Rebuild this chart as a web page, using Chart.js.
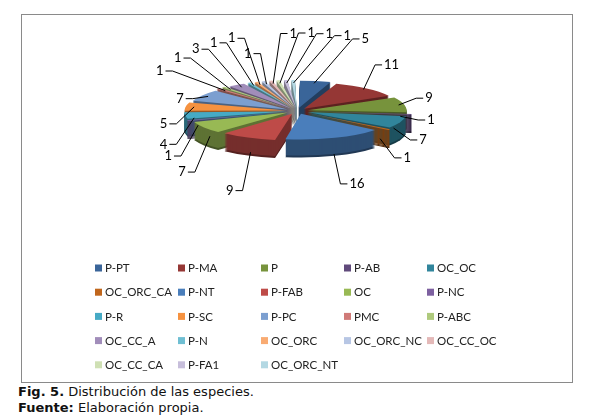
<!DOCTYPE html>
<html>
<head>
<meta charset="utf-8">
<script src="https://cdn.jsdelivr.net/npm/chart.js@4.4.1/dist/chart.umd.min.js"></script>
<style>
  html, body { margin: 0; padding: 0; background: #fff; }
  #frame { position: absolute; left: 21px; top: 14px; width: 550px; height: 367px; border: 1px solid #8a8a8a; }
  #frame canvas { display: block; }
  .caption { position: absolute; left: 18px; font-family: "DejaVu Sans", Verdana, sans-serif; font-size: 13px; line-height: 16px; color: #111; white-space: nowrap; }
</style>
</head>
<body>
<div id="frame"><canvas id="pie" width="550" height="367"></canvas></div>
<div class="caption" style="top:384px"><b>Fig. 5.</b> Distribución de las especies.</div>
<div class="caption" style="top:400px"><b>Fuente:</b> Elaboración propia.</div>
<script>
// Species and how many of each were counted
const species = ['P-PT', 'P-MA', 'P', 'P-AB', 'OC_OC', 'OC_ORC_CA', 'P-NT', 'P-FAB', 'OC', 'P-NC',
                 'P-R', 'P-SC', 'P-PC', 'PMC', 'P-ABC', 'OC_CC_A', 'P-N', 'OC_ORC', 'OC_ORC_NC',
                 'OC_CC_OC', 'OC_CC_CA', 'P-FA1', 'OC_ORC_NT'];
const counts = [5, 11, 9, 1, 7, 1, 16, 9, 7, 1, 4, 5, 7, 1, 1, 3, 1, 1, 1, 1, 1, 1, 1];

// Office 2007 style palette
const sliceColors = ['#3a6599', '#953735', '#77933c', '#604a7b', '#31859c', '#c0661c',
                     '#4a7ebb', '#be4b48', '#98b954', '#7d60a0', '#46aac5', '#f69240',
                     '#7c9fd0', '#d07a78', '#afca7d', '#a18dba', '#6fbfd3', '#f9ab72',
                     '#b7c6e4', '#e4b9b8', '#cfe0b4', '#c7bedb', '#b3d8e3'];

// fake 3-D: vertical squash, side height, where the centre lands on the canvas
const tilt = { squash: 0.27, depth: 18, centerX: 275, centerY: 96 };

function setTilt(ctx, cx, cy, drop) {
    ctx.translate(tilt.centerX, tilt.centerY + drop);
    ctx.scale(1, tilt.squash);
    ctx.translate(-cx, -cy);
}

// Draws the side walls under the slices, then tilts the top face
const tiltPlugin = {
    id: 'tilt',
    beforeDatasetsDraw(chart) {
        const ctx = chart.ctx;
        const arcs = chart.getDatasetMeta(0).data;
        const cx = arcs[0].x, cy = arcs[0].y;
        for (let d = tilt.depth; d >= 1; d--) {
            ctx.save();
            setTilt(ctx, cx, cy, d);
            ctx.filter = 'brightness(' + (d > tilt.depth - 2 ? 45 : 62) + '%)';
            arcs.forEach(arc => arc.draw(ctx));
            ctx.restore();
        }
        ctx.save();
        setTilt(ctx, cx, cy, 0);
    },
    afterDatasetsDraw(chart) {
        chart.ctx.restore();
    }
};

// Value labels with leader lines, Excel style
const leaderPlugin = {
    id: 'leaders',
    afterDraw(chart) {
        const ctx = chart.ctx;
        const arcs = chart.getDatasetMeta(0).data;
        const values = chart.data.datasets[0].data;
        const rxL = 122, ryL = 60, minGap = 18;
        const items = arcs.map((arc, i) => {
            const p = arc.getProps(['startAngle', 'endAngle', 'outerRadius']);
            const mid = (p.startAngle + p.endAngle) / 2;
            const c = Math.cos(mid), s = Math.sin(mid);
            const drop = tilt.depth * Math.max(0, s);
            const r = p.outerRadius + 10;
            return {
                value: values[i], c, s,
                ax: tilt.centerX + c * r,
                ay: tilt.centerY + s * r * tilt.squash + drop,
                x: tilt.centerX + c * rxL,
                y: tilt.centerY + s * ryL + drop + 22 * Math.max(0, -c)
            };
        });
        // spread the crowded labels over the top
        const top = items.filter(it => it.s < -0.6).sort((a, b) => a.x - b.x);
        top.forEach(it => { it.x0 = it.x; it.y = tilt.centerY + it.s * ryL; });
        for (let n = 0; n < 300; n++) {
            for (let i = 1; i < top.length; i++) {
                const gap = top[i].x - top[i - 1].x;
                if (gap < minGap) {
                    const push = (minGap - gap) / 2;
                    top[i].x += push;
                    top[i - 1].x -= push;
                }
            }
        }
        top.forEach(it => {
            if (Math.abs(it.x - it.x0) > 1) {
                it.x += 2;
                const dx = (it.x - tilt.centerX) / 145;
                it.y = tilt.centerY - 78 * Math.sqrt(Math.max(0.1, 1 - dx * dx));
            }
            it.side = it.x >= it.ax ? 1 : -1;
        });

        ctx.save();
        ctx.strokeStyle = '#000';
        ctx.lineWidth = 1;
        ctx.fillStyle = '#000';
        ctx.font = '13px Lato, "Open Sans", sans-serif';
        ctx.textBaseline = 'middle';
        items.forEach(it => {
            const side = it.side || (it.c >= 0 ? 1 : -1);
            ctx.beginPath();
            ctx.moveTo(it.ax, it.ay);
            ctx.lineTo(it.x, it.y);
            ctx.lineTo(it.x + side * 7, it.y);
            ctx.stroke();
            ctx.textAlign = side > 0 ? 'left' : 'right';
            ctx.fillText(String(it.value), it.x + side * 9, it.y);
        });
        ctx.restore();
    }
};

// Legend drawn as a fixed grid
const legendGrid = { left: 73, top: 253, colWidth: 83, rowHeight: 24.2, columns: 5, box: 7 };
const gridLegendPlugin = {
    id: 'gridLegend',
    afterDraw(chart) {
        const ctx = chart.ctx;
        const colors = chart.data.datasets[0].backgroundColor;
        ctx.save();
        ctx.font = '11.5px Lato, "Open Sans", sans-serif';
        ctx.textBaseline = 'middle';
        ctx.textAlign = 'left';
        chart.data.labels.forEach((name, i) => {
            const col = i % legendGrid.columns, row = Math.floor(i / legendGrid.columns);
            const x = legendGrid.left + col * legendGrid.colWidth;
            const y = legendGrid.top + row * legendGrid.rowHeight;
            ctx.fillStyle = colors[i];
            ctx.fillRect(x, y - legendGrid.box / 2, legendGrid.box, legendGrid.box);
            ctx.fillStyle = '#222';
            ctx.fillText(name, x + legendGrid.box + 3, y + 0.5);
        });
        ctx.restore();
    }
};

new Chart(document.getElementById('pie'), {
    type: 'pie',
    data: {
        labels: species,
        datasets: [{
            data: counts,
            backgroundColor: sliceColors,
            borderWidth: 0,
            offset: 44
        }]
    },
    options: {
        responsive: false,
        animation: false,
        radius: 94,
        layout: { padding: { top: 0, bottom: 140 } },
        plugins: {
            legend: { display: false },
            tooltip: { enabled: false }
        }
    },
    plugins: [tiltPlugin, leaderPlugin, gridLegendPlugin]
});
</script>
</body>
</html>
